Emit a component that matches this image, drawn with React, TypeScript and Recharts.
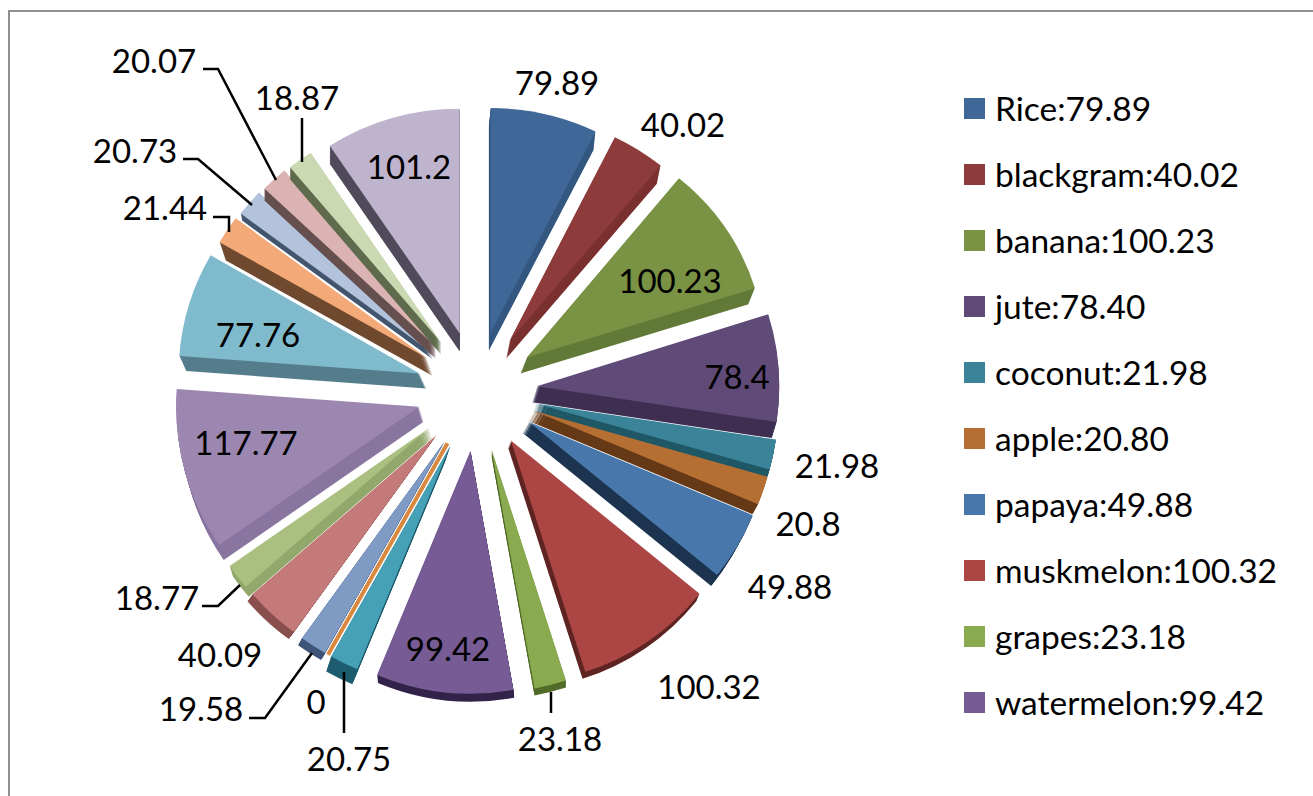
import { Cell, Legend, Pie, PieChart, Sector } from "recharts";

const cropNames = [
  "Rice",
  "blackgram",
  "banana",
  "jute",
  "coconut",
  "apple",
  "papaya",
  "muskmelon",
  "grapes",
  "watermelon",
];

const cropValues = [
  79.89, 40.02, 100.23, 78.4, 21.98, 20.8, 49.88, 100.32, 23.18, 99.42, 20.75,
  0, 19.58, 40.09, 18.77, 117.77, 77.76, 21.44, 20.73, 20.07, 18.87, 101.2,
];

const faceColors = [
  "#3f6797", "#8d3c3b", "#799244", "#604a78", "#3a8398", "#b66f33", "#4877ab",
  "#ab4644", "#8aaa50", "#765b94", "#46a0b6", "#d9893f", "#7f9ac3", "#c47a78",
  "#abc080", "#9b87b0", "#80bacd", "#f3aa78", "#b3c3dc", "#dcb3b3", "#cbd9b2",
  "#bfb4cd",
];

const wallColors = [
  "#355880", "#7a3130", "#627a38", "#3f2f52", "#205866", "#663a17", "#1c344f",
  "#5f2523", "#526b2a", "#33234a", "#1f5d70", "#8a5520", "#3e5478", "#8a4f4d",
  "#92a86c", "#8a76a0", "#557d8c", "#704a30", "#44566f", "#66504f", "#5f6b4c",
  "#504a5a",
];

// how far each slice's side wall drops below its face
const wallDepths = [
  18, 18, 16, 16, 8, 10, 11, 7, 7, 8, 15, 0, 7, 7, 10, 15, 15, 18, 7, 12, 12,
  18,
];

// sideways drift of the wall per pixel of drop
const wallLeans = [
  -0.1, -0.2, -0.4, -0.3, -0.3, -0.55, -0.55, -0.4, 0, 0.1, -0.33, 0, -0.57,
  -0.74, 0.3, 0.3, 0.45, 0.33, 0.2, 0, 0, 0,
];

// hand-placed label centres, as the chart's author dragged them
const labelSpots: [number, number][] = [
  [557, 82], [683, 124], [670, 280], [737, 376], [837, 465], [808, 523],
  [790, 586], [709, 686], [560, 738], [448, 648], [349, 758], [316, 701],
  [201, 708], [220, 654], [157, 597], [246, 442], [258, 334], [165, 207],
  [135, 150], [154, 60], [297, 97], [409, 166],
];

const leaderLines: Record<number, string> = {
  8: "551,692 551,713",
  10: "344,672 344,733",
  12: "249,718 265,718 312,653",
  14: "202,606 218,606 240,585",
  17: "213,217 229,217 229,232",
  18: "183,159 198,159 252,205",
  19: "203,69 218,69 276,180",
  20: "302,118 302,162",
};

const chartFont = "Lato, sans-serif";
const explode = 60;
const RAD = Math.PI / 180;

const pieData = cropValues.map((value, i) => ({
  name: cropNames[i] ?? `crop ${i + 1}`,
  value,
}));

// one exploded slice: extruded wall first, then the face on top
const ExplodedSlice = (props: any) => {
  const { cx, cy, outerRadius, startAngle, endAngle, index, midAngle } = props;
  const clock = 90 - midAngle;
  const sin = Math.sin(clock * RAD);
  const cos = Math.cos(clock * RAD);
  const apexX = cx + explode * sin;
  const apexY = cy - explode * cos;
  // the back of the pie is foreshortened, more in y than in x
  const back = Math.max(0, cos);
  const scaleX = 1 - (7 * back) / outerRadius;
  const scaleY = 1 - (19 * back) / outerRadius;

  if (startAngle === endAngle) {
    return (
      <line
        x1={apexX}
        y1={apexY}
        x2={apexX + outerRadius * sin}
        y2={apexY - outerRadius * cos}
        stroke={faceColors[index]}
        strokeWidth={4}
      />
    );
  }

  const depth = wallDepths[index];
  const lean = wallLeans[index];
  const layers = Array.from({ length: depth }, (_, i) => depth - i);
  const sector = {
    cx: 0,
    cy: 0,
    innerRadius: 0,
    outerRadius,
    startAngle,
    endAngle,
  };
  const place = (d: number) =>
    `translate(${apexX + lean * d} ${apexY + d}) scale(${scaleX} ${scaleY})`;

  return (
    <g>
      {layers.map((d) => (
        <g key={d} transform={place(d)}>
          <Sector {...sector} fill={wallColors[index]} />
        </g>
      ))}
      <g transform={place(0)}>
        <Sector {...sector} fill={faceColors[index]} />
      </g>
    </g>
  );
};

const renderLabel = (props: any) => {
  const { index, value } = props;
  const [x, y] = labelSpots[index];
  return (
    <g key={index}>
      {leaderLines[index] && (
        <polyline
          points={leaderLines[index]}
          fill="none"
          stroke="#000"
          strokeWidth={2.5}
        />
      )}
      <text
        x={x}
        y={y}
        textAnchor="middle"
        dominantBaseline="central"
        fontFamily={chartFont}
        fontSize={33}
        fill="#000"
      >
        {value}
      </text>
    </g>
  );
};

const CropLegend = () => (
  <div style={{ fontFamily: chartFont, fontSize: 33.5, color: "#000" }}>
    {cropNames.map((name, i) => (
      <div
        key={name}
        style={{ display: "flex", alignItems: "center", height: 66 }}
      >
        <span
          style={{
            width: 21,
            height: 21,
            marginRight: 10,
            background: faceColors[i],
          }}
        />
        <span style={{ whiteSpace: "nowrap" }}>
          {name}:{cropValues[i].toFixed(2)}
        </span>
      </div>
    ))}
  </div>
);

export default function App() {
  return (
    <div
      style={{
        position: "absolute",
        left: 0,
        top: 0,
        width: 1313,
        height: 796,
        background: "#fff",
        overflow: "hidden",
      }}
    >
      <div
        style={{
          position: "absolute",
          left: 8,
          top: 10,
          width: 1400,
          height: 900,
          border: "2px solid #8f8f8f",
        }}
      />
      <PieChart
        width={1313}
        height={796}
        margin={{ top: 0, right: 0, bottom: 0, left: 0 }}
      >
        <Pie
          data={pieData}
          dataKey="value"
          nameKey="name"
          cx={477}
          cy={391}
          outerRadius={243}
          startAngle={90}
          endAngle={-270}
          stroke="none"
          isAnimationActive={false}
          shape={ExplodedSlice}
          label={renderLabel}
          labelLine={false}
        >
          {pieData.map((d, i) => (
            <Cell key={d.name} fill={faceColors[i]} />
          ))}
        </Pie>
        <Legend
          content={<CropLegend />}
          wrapperStyle={{ position: "absolute", left: 964, top: 75, width: 349 }}
        />
      </PieChart>
    </div>
  );
}
